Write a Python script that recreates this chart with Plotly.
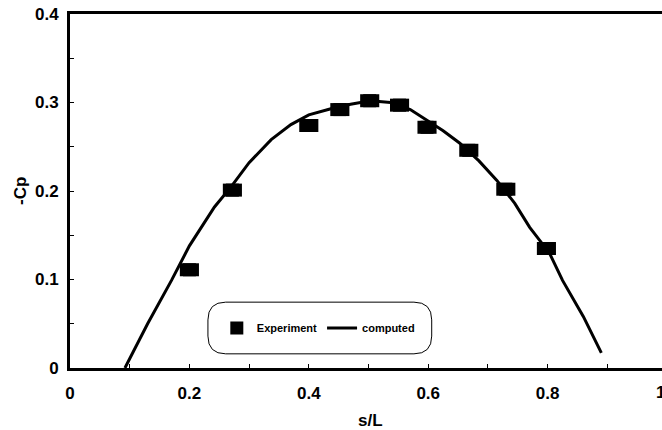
import plotly.graph_objects as go

# Experimental data
exp_x = [0.20, 0.272, 0.40, 0.452, 0.502, 0.552, 0.598, 0.668, 0.73, 0.798]
exp_y = [0.111, 0.201, 0.274, 0.292, 0.302, 0.297, 0.272, 0.246, 0.202, 0.135]

# Computed curve
comp_x = [0.092, 0.13, 0.17, 0.20, 0.242, 0.27, 0.30, 0.337, 0.37, 0.40, 0.437, 0.47,
          0.503, 0.537, 0.57, 0.598, 0.625, 0.653, 0.685, 0.715, 0.745, 0.77, 0.803,
          0.825, 0.86, 0.89]
comp_y = [0.0, 0.05, 0.099, 0.138, 0.182, 0.205, 0.232, 0.258, 0.275, 0.286, 0.293, 0.298,
          0.302, 0.300, 0.292, 0.280, 0.268, 0.254, 0.234, 0.212, 0.186, 0.159, 0.130,
          0.099, 0.058, 0.017]

x_tickvals = [0, 0.2, 0.4, 0.6, 0.8]
x_ticktext = ["0", "0.2", "0.4", "0.6", "0.8"]
y_tickvals = [0, 0.1, 0.2, 0.3, 0.4]
y_ticktext = ["0", "0.1", "0.2", "0.3", "0.4"]
last_x_label = "1"
x_title = "s/L"
y_title = "-Cp"

FONT = "Liberation Sans, Arial, sans-serif"

fig = go.Figure()
fig.add_trace(go.Scatter(
    x=exp_x, y=exp_y, mode="markers", name="Experiment",
    marker=dict(symbol="square", size=13, color="black", line=dict(width=0)),
    error_x=dict(type="constant", value=0.016, thickness=13, width=0, color="black"),
))
fig.add_trace(go.Scatter(
    x=comp_x, y=comp_y, mode="lines", name="computed",
    line=dict(color="black", width=3),
))

axis_common = dict(
    showgrid=False, zeroline=False, showline=True, linecolor="black", linewidth=3,
    ticks="inside", ticklen=4, tickwidth=1, tickcolor="black", automargin=False,
    ticklabeloverflow="allow",
    tickfont=dict(family=FONT, size=17, color="black", weight="bold"),
)

fig.update_xaxes(
    range=[0, 0.9916], tickvals=x_tickvals, ticktext=x_ticktext, mirror=True,
    minor=dict(dtick=0.1, ticks="inside", ticklen=4, tickcolor="black", tick0=0),
    ticklabelstandoff=8,
    **axis_common,
)
fig.update_yaxes(
    range=[0, 0.4], tickvals=y_tickvals, ticktext=y_ticktext,
    minor=dict(dtick=0.05, ticks="inside", ticklen=4, tickcolor="black", tick0=0),
    ticklabelstandoff=5,
    **axis_common,
)

# rounded legend frame
x0, x1, y0, y1, r = 0.233, 0.611, 0.04, 0.186, 0.03
ry = r * 592 / 354
path = (f"M {x0+r},{y0} L {x1-r},{y0} Q {x1},{y0} {x1},{y0+ry} L {x1},{y1-ry} "
        f"Q {x1},{y1} {x1-r},{y1} L {x0+r},{y1} Q {x0},{y1} {x0},{y1-ry} "
        f"L {x0},{y0+ry} Q {x0},{y0} {x0+r},{y0} Z")
fig.add_shape(type="path", path=path, xref="paper", yref="paper",
              line=dict(color="black", width=1), fillcolor="white", layer="below")

fig.add_annotation(text=f"<b>{last_x_label}</b>", xref="paper", yref="paper",
                   x=1.0084, y=0, yshift=-24, showarrow=False, yanchor="middle",
                   font=dict(family=FONT, size=17, color="black"))
fig.add_annotation(text=f"<b>{x_title}</b>", xref="paper", yref="paper",
                   x=0.507, y=0, yshift=-52, showarrow=False, yanchor="middle",
                   font=dict(family=FONT, size=17, color="black"))
fig.add_annotation(text=f"<b>{y_title}</b>", xref="paper", yref="paper",
                   x=0, xshift=-50, y=0.5, showarrow=False, textangle=-90,
                   xanchor="center", yanchor="middle",
                   font=dict(family=FONT, size=17, color="black"))

fig.update_layout(
    width=662, height=430,
    margin=dict(l=70, r=0, t=14, b=62),
    paper_bgcolor="white", plot_bgcolor="rgba(0,0,0,0)",
    showlegend=True,
    legend=dict(orientation="h", x=0.248, y=0.113, xanchor="left", yanchor="middle",
                bgcolor="rgba(0,0,0,0)", borderwidth=0,
                font=dict(family=FONT, size=11, color="black", weight="bold")),
)

fig.write_html("out.html", config={"displayModeBar": False},
               post_script="document.body.style.margin='0';document.body.style.overflow='hidden';")
